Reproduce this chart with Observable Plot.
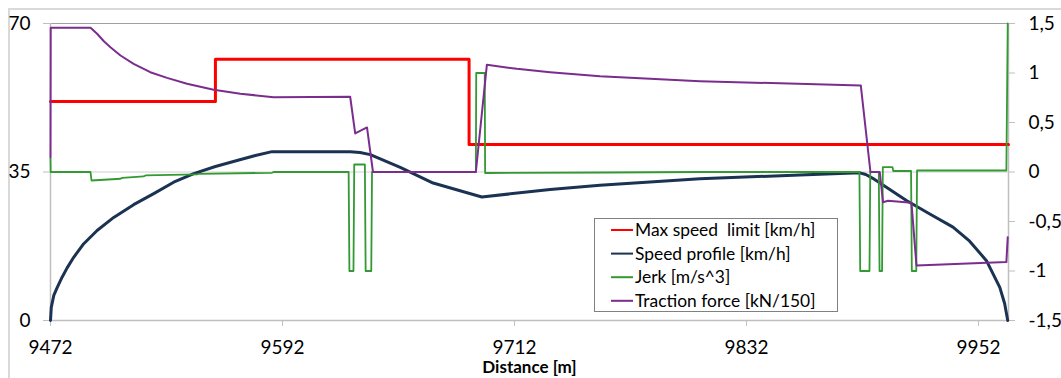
<!DOCTYPE html>
<html><head><meta charset="utf-8">
<script src="https://cdn.jsdelivr.net/npm/d3@7"></script>
<script src="https://cdn.jsdelivr.net/npm/@observablehq/plot@0.6"></script>
<style>
body{margin:0;background:#fff;}
#wrap{position:relative;width:1061px;height:378px;overflow:hidden;font-family:Lato,sans-serif;background:#fff;}
#frame{position:absolute;left:8px;top:8px;width:1200px;height:500px;border-left:2px solid #d9d9d9;border-top:2px solid #d9d9d9;}
#chart{position:absolute;left:0;top:0;}
#legend{position:absolute;left:594px;top:218px;}
</style>
</head><body>
<div id="wrap"><div id="frame"></div><div id="chart"></div><div id="legend"></div></div>
<script>
// ---- data (distance in m) ----
const speedLimitDist = [9472, 9557.3, 9557.3, 9688.5, 9688.5, 9967.5];
const speedLimitVal  = [51.6, 51.6, 61.6, 61.6, 41.5, 41.5];

const speedDist = [9472, 9472.4, 9473.7, 9475.5, 9478.0, 9480.6, 9484.0, 9489.2, 9496.1, 9504.7, 9515.0, 9525.4, 9535.7, 9546.1, 9557.3, 9568.5, 9578.0, 9586.6, 9627.0, 9632.1, 9637.4, 9652.9, 9669.9, 9695.1, 9730.4, 9756.2, 9807.9, 9859.6, 9890.6, 9893.7, 9897.3, 9906.1, 9914.7, 9926.8, 9938.8, 9947.4, 9956.1, 9963.0, 9965.5, 9967.1];
const speedVal  = [0, 3.1, 5.9, 7.8, 10.2, 12.4, 14.9, 18.1, 21.2, 24.3, 27.3, 29.9, 32.6, 34.6, 36.3, 37.7, 38.9, 39.8, 39.8, 39.6, 39.1, 36.1, 32.4, 29.1, 30.9, 31.9, 33.4, 34.3, 34.8, 34.4, 33.5, 30.9, 28.3, 25.1, 22.0, 18.7, 14.1, 7.8, 4.0, 0];

const jerkDist = [9472.0, 9472.1, 9492.7, 9493.2, 9508.2, 9509.1, 9520.2, 9521.1, 9547.8, 9548.6, 9586.6, 9587.4, 9626.2, 9626.6, 9628.7, 9629.1, 9634.6, 9635.0, 9637.9, 9638.3, 9692.0, 9692.2, 9696.6, 9696.8, 9760.0, 9807.9, 9890.4, 9890.8, 9895.6, 9896.0, 9900.4, 9900.8, 9902.1, 9902.5, 9907.5, 9907.9, 9917.1, 9917.5, 9919.8, 9920.2, 9966.4, 9967.1];
const jerkVal  = [0.14, 0.0, 0.0, -0.086, -0.068, -0.059, -0.045, -0.035, -0.025, -0.018, -0.008, 0.0, 0.0, -1, -1, 0.076, 0.076, -1, -1, 0.0, 0.0, 1.0, 1.0, -0.01, -0.005, 0.0, 0.0, -1, -1, 0.0, 0.0, -1, -1, 0.05, 0.05, 0.01, 0.01, -1, -1, 0.015, 0.015, 1.5];

const forceDist = [9472.0, 9472.1, 9492.7, 9496.1, 9499.6, 9503.0, 9508.2, 9515.0, 9523.6, 9532.3, 9542.6, 9556.4, 9570.2, 9587.4, 9627.0, 9629.6, 9635.7, 9638.8, 9692.0, 9697.7, 9713.2, 9730.4, 9756.2, 9782.1, 9807.9, 9891.1, 9896.1, 9900.9, 9902.6, 9905.2, 9917.3, 9919.9, 9966.4, 9967.1];
const forceVal  = [0.15, 1.457, 1.457, 1.396, 1.321, 1.261, 1.177, 1.093, 1.008, 0.951, 0.891, 0.830, 0.790, 0.756, 0.76, 0.39, 0.45, 0.0, 0.0, 1.083, 1.042, 1.008, 0.968, 0.941, 0.917, 0.874, 0.0, 0.0, -0.305, -0.29, -0.31, -0.944, -0.91, -0.66];

const xTicks = [9472, 9592, 9712, 9832, 9952];
const leftTicks = [0, 35, 70];
const rightTicks = [-1.5, -1, -0.5, 0, 0.5, 1, 1.5];

const seriesNames = ["Max speed  limit [km/h]", "Speed profile [km/h]", "Jerk [m/s^3]", "Traction force [kN/150]"];
const seriesColors = ["#ff0000", "#1b3353", "#339933", "#7b2d8e"];
const seriesWidths = [3, 3, 1.8, 2];

// secondary axis mapping (-1.5..1.5 -> 0..70)
const K = 70 / 3;
const toLeft = v => (v + 1.5) * K;
const fmtRight = v => { const r = Math.round((v / K - 1.5) * 10) / 10; return String(r).replace(".", ","); };

const limit = speedLimitDist.map((d, i) => ({d, v: speedLimitVal[i]}));
const speed = speedDist.map((d, i) => ({d, v: speedVal[i]}));
const jerk = jerkDist.map((d, i) => ({d, v: toLeft(jerkVal[i])}));
const force = forceDist.map((d, i) => ({d, v: toLeft(forceVal[i])}));

const plot = Plot.plot({
  width: 1061, height: 378,
  marginLeft: 50, marginRight: 53, marginTop: 23, marginBottom: 58,
  x: {domain: [9472, 9967.5]},
  y: {domain: [0, 70]},
  style: {fontFamily: "Lato, sans-serif", fontSize: "19px", color: "#000", background: "transparent"},
  marks: [
    Plot.ruleY([35], {stroke: "#d0d0d0", strokeWidth: 1.2}),
    Plot.ruleY([70], {stroke: "#a0a0a0", strokeWidth: 1.2}),
    Plot.ruleY([0], {stroke: "#bfbfbf", strokeWidth: 1.5}),
    Plot.ruleX([9472], {stroke: "#bfbfbf", strokeWidth: 1.5}),
    Plot.ruleX([9967.5], {stroke: "#bfbfbf", strokeWidth: 1.5}),
    Plot.axisY(leftTicks, {anchor: "left", tickSize: 7, tickPadding: 13, stroke: "#bfbfbf", fill: "#000", label: null, tickFormat: d => String(d)}),
    Plot.axisY(rightTicks.map(toLeft), {anchor: "right", tickSize: 6, tickPadding: 14, stroke: "#bfbfbf", fill: "#000", label: null, tickFormat: fmtRight}),
    Plot.axisX(xTicks, {anchor: "bottom", tickSize: 6, tickPadding: 14, stroke: "#bfbfbf", fill: "#000", label: null, tickFormat: d => String(d)}),
    Plot.text(["Distance [m]"], {frameAnchor: "bottom", lineAnchor: "middle", dy: 47, fontWeight: "bold", fontSize: 17, fill: "#000"}),
    Plot.line(limit, {x: "d", y: "v", stroke: seriesColors[0], strokeWidth: seriesWidths[0]}),
    Plot.line(speed, {x: "d", y: "v", stroke: seriesColors[1], strokeWidth: seriesWidths[1]}),
    Plot.line(jerk, {x: "d", y: "v", stroke: seriesColors[2], strokeWidth: seriesWidths[2]}),
    Plot.line(force, {x: "d", y: "v", stroke: seriesColors[3], strokeWidth: seriesWidths[3]})
  ]
});
document.getElementById("chart").appendChild(plot);

// legend box
const lg = d3.select("#legend").append("svg").attr("width", 245).attr("height", 96)
  .style("font-family", "Lato, sans-serif");
lg.append("rect").attr("x", 0.5).attr("y", 0.5).attr("width", 243).attr("height", 93)
  .attr("fill", "#fff").attr("stroke", "#808080").attr("stroke-width", 1);
seriesNames.forEach((name, i) => {
  const y = 12 + i * 23.6;
  lg.append("line").attr("x1", 17).attr("x2", 39).attr("y1", y).attr("y2", y)
    .attr("stroke", seriesColors[i]).attr("stroke-width", 2);
  lg.append("text").attr("x", 41).attr("y", y).attr("dy", "0.35em")
    .attr("font-size", 17.4).attr("fill", "#000").style("white-space", "pre").text(name);
});
</script>
</body></html>
